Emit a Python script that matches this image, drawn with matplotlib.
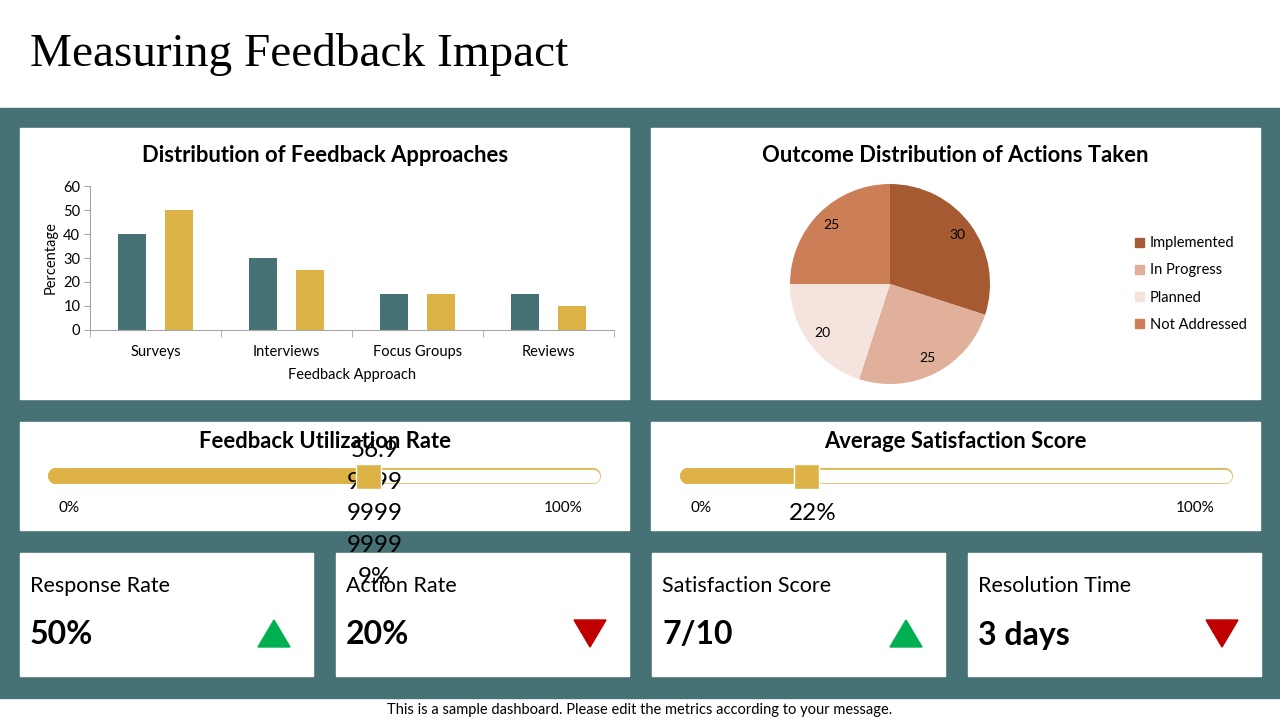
import textwrap
import matplotlib
matplotlib.use("Agg")
import matplotlib.pyplot as plt
from matplotlib.patches import Rectangle, Polygon, Patch

# ---------------- data ----------------
approaches = ["Surveys", "Interviews", "Focus Groups", "Reviews"]
series_teal = [40, 30, 15, 15]
series_gold = [50, 25, 15, 10]
y_ticks = [0, 10, 20, 30, 40, 50, 60]

outcome_labels = ["Implemented", "In Progress", "Planned", "Not Addressed"]
outcome_values = [30, 25, 20, 25]

utilization_rate = 0.57
satisfaction_rate = 0.22

kpi_labels = ["Response Rate", "Action Rate", "Satisfaction Score", "Resolution Time"]
kpi_values = ["50%", "20%", "7/10", "3 days"]
kpi_trends = ["up", "down", "up", "down"]

# ---------------- style ----------------
TEAL = "#467275"
GOLD = "#DDB347"
GREEN = "#00B050"
RED = "#C00000"
PIE_COLORS = ["#A65A32", "#E0B09A", "#F5E3DD", "#CC7E57"]
FONT = ["Lato", "DejaVu Sans"]
plt.rcParams["font.family"] = FONT

W, H = 1280, 720
fig = plt.figure(figsize=(12.8, 7.2), dpi=100)


def fr(x0, y0, x1, y1):
    return [x0 / W, 1 - y1 / H, (x1 - x0) / W, (y1 - y0) / H]


bg = fig.add_axes([0, 0, 1, 1])
bg.set_xlim(0, W)
bg.set_ylim(H, 0)
bg.axis("off")

bg.add_patch(Rectangle((0, 108), W, 590, color=TEAL, zorder=0))
panels = [(20, 128, 629, 399), (651, 128, 1260, 399),
          (20, 422, 629, 530), (651, 422, 1260, 530)]
for x0, y0, x1, y1 in panels:
    bg.add_patch(Rectangle((x0, y0), x1 - x0, y1 - y0, color="white", zorder=1))

bg.text(30, 55, "Measuring Feedback Impact", family=["Liberation Serif"],
        fontsize=34, va="center", ha="left", color="black")
bg.text(640, 710, "This is a sample dashboard. Please edit the metrics according to your message.",
        fontsize=10.5, ha="center", va="center", color="black")

# KPI cards
card_x = [20, 336, 652, 968]
for cx, lab, val, tr in zip(card_x, kpi_labels, kpi_values, kpi_trends):
    bg.add_patch(Rectangle((cx, 553), 293, 123, color="white", zorder=1))
    bg.text(cx + 10, 586, lab, fontsize=15.5, va="center", ha="left", zorder=2)
    bg.text(cx + 10, 635, val, fontsize=23, fontweight="bold", va="center", ha="left", zorder=2)
    tx = cx + 238
    if tr == "up":
        pts = [(tx, 647), (tx + 32, 647), (tx + 16, 620)]
        col = GREEN
    else:
        pts = [(tx, 620), (tx + 32, 620), (tx + 16, 647)]
        col = RED
    bg.add_patch(Polygon(pts, closed=True, color=col, zorder=2))

# panel titles
for tx_, ty_, t_ in [(325, 155, "Distribution of Feedback Approaches"),
                     (955, 155, "Outcome Distribution of Actions Taken"),
                     (325, 442, "Feedback Utilization Rate"),
                     (955, 442, "Average Satisfaction Score")]:
    bg.text(tx_, ty_, t_, fontsize=15.8, fontweight="bold",
            ha="center", va="center", zorder=3)

# ---------------- bar chart ----------------
ax = fig.add_axes(fr(90, 186, 614, 330))
x = list(range(len(approaches)))
off, bw = 0.183, 0.214
ax.bar([i - off for i in x], series_teal, width=bw, color=TEAL)
ax.bar([i + off for i in x], series_gold, width=bw, color=GOLD)
ax.set_xlim(-0.5, len(approaches) - 0.5)
ax.set_ylim(0, 60)
ax.set_yticks(y_ticks)
ax.set_xticks(x)
ax.set_xticklabels(approaches)
ax.set_xticks([i - 0.5 for i in range(len(approaches) + 1)], minor=True)
ax.tick_params(axis="x", which="major", length=0, pad=11, labelsize=10.5)
ax.tick_params(axis="x", which="minor", length=5, color="#A6A6A6")
ax.tick_params(axis="y", length=4, color="#A6A6A6", labelsize=10.5, pad=3)
for s in ["top", "right"]:
    ax.spines[s].set_visible(False)
for s in ["left", "bottom"]:
    ax.spines[s].set_color("#A6A6A6")
ax.set_xlabel("Feedback Approach", fontsize=10.5, labelpad=6)
ax.set_ylabel("Percentage", fontsize=10.5, labelpad=4)
ax.set_facecolor("none")

# ---------------- pie chart ----------------
pax = fig.add_axes(fr(790, 184, 990, 384))
wedges, _texts, autot = pax.pie(
    outcome_values, colors=PIE_COLORS, startangle=90, counterclock=False,
    autopct=lambda p: f"{p * sum(outcome_values) / 100:.0f}", pctdistance=0.83,
    textprops={"fontsize": 10})
pax.set_xlim(-1, 1)
pax.set_ylim(-1, 1)
pax.set_aspect("equal")
handles = [Patch(color=c) for c in PIE_COLORS]
leg = fig.legend(handles, outcome_labels, loc="center left",
                 bbox_to_anchor=(1122 / W, 1 - 284 / H), frameon=False,
                 fontsize=10.5, handlelength=0.6, handleheight=0.6,
                 handletextpad=0.4, labelspacing=0.9)


# ---------------- gauges ----------------
def gauge(x0, x1, rate):
    # scale: 0% -> x0+4 px, 100% -> x0+558 px ; track drawn from x0 to x1 px
    s0, s1 = x0 + 4, x0 + 558
    gax = fig.add_axes(fr(s0, 460, s1, 492))
    gax.set_xlim(0, 100)
    gax.set_ylim(0, 1)
    gax.axis("off")
    cap = 8
    t0 = (x0 + cap - s0) / (s1 - s0) * 100
    t1 = (x1 - cap - s0) / (s1 - s0) * 100
    lw_out = 16 * 0.72
    lw_in = 13.5 * 0.72
    gax.plot([t0, t1], [0.5, 0.5], color=GOLD, lw=lw_out, solid_capstyle="round",
             zorder=1, clip_on=False)
    gax.plot([t0, t1], [0.5, 0.5], color="white", lw=lw_in, solid_capstyle="round",
             zorder=2, clip_on=False)
    v = rate * 100
    gax.plot([t0, v], [0.5, 0.5], color=GOLD, lw=lw_out, solid_capstyle="round",
             zorder=3, clip_on=False)
    gax.scatter([v], [0.5], marker="s", s=(25 * 0.72) ** 2, color=GOLD,
                edgecolors="white", linewidths=1.0, zorder=6, clip_on=False)
    sv = repr(v)
    if sv.endswith(".0"):
        sv = sv[:-2]
    label = "\n".join(textwrap.wrap(sv + "%", 4))
    gax.annotate(label, xy=(v, 0.5), xytext=(7 * 0.72, -38 * 0.72),
                 textcoords="offset points", ha="center", va="center",
                 fontsize=17.5, linespacing=1.64, annotation_clip=False, zorder=5)
    return gax


g1 = gauge(48, 601, utilization_rate)
g2 = gauge(680, 1233, satisfaction_rate)
bg.text(69, 508, "0%", fontsize=11, ha="center", va="center", zorder=3)
bg.text(563, 508, "100%", fontsize=11, ha="center", va="center", zorder=3)
bg.text(701, 508, "0%", fontsize=11, ha="center", va="center", zorder=3)
bg.text(1195, 508, "100%", fontsize=11, ha="center", va="center", zorder=3)

fig.savefig("out.png", dpi=100)
